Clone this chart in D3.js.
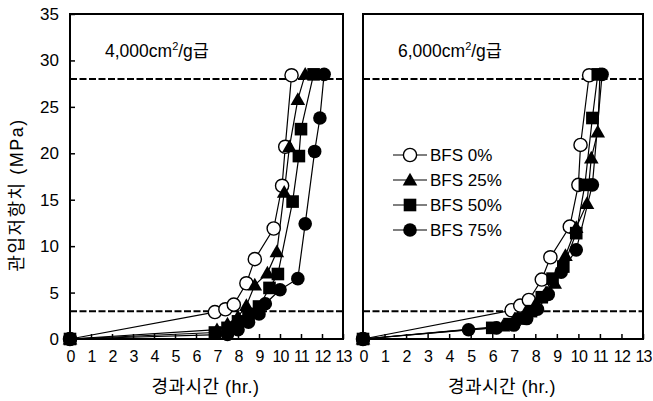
<!DOCTYPE html>
<html>
<head>
<meta charset="utf-8">
<script src="https://cdn.jsdelivr.net/npm/d3@7"></script>
<style>
    body { margin: 0; background: #fff; }
    text { font-family: "Liberation Sans", Arial, "Noto Sans CJK KR", sans-serif; fill: #000; }
</style>
</head>
<body>
<script>
// series names (legend)
var seriesNames = ["BFS 0%", "BFS 25%", "BFS 50%", "BFS 75%"];
var markerTypes = ["openCircle", "triangle", "square", "circle"];

// panel titles
var panelTitles = ["4,000", "6,000"];

// tick values
var xTicks = d3.range(0, 14);
var yTicks = [0, 5, 10, 15, 20, 25, 30, 35];
var refLines = [28, 3];

// data: [hours, MPa]
var left0 = [[0,0],[6.9,2.9],[7.4,3.2],[7.8,3.7],[8.4,6.0],[8.8,8.6],[9.7,11.9],[10.1,16.5],[10.25,20.7],[10.55,28.4]];
var left25 = [[0,0],[7.0,1.0],[7.5,1.6],[8.0,2.4],[8.4,3.6],[8.8,5.8],[9.4,7.1],[9.85,9.4],[10.2,15.8],[10.45,20.7],[10.85,25.8],[11.2,28.5]];
var left50 = [[0,0],[6.9,0.7],[7.5,1.2],[8.0,1.9],[8.5,2.7],[9.0,3.5],[9.5,5.5],[9.9,7.0],[10.6,14.8],[10.9,19.7],[11.0,22.6],[11.6,28.5]];
var left75 = [[0,0],[7.5,0.5],[8.0,1.0],[8.5,1.8],[9.0,2.7],[9.3,3.8],[10.0,5.3],[10.85,6.5],[11.2,12.4],[11.65,20.2],[11.9,23.8],[12.1,28.5]];

var right0 = [[0,0],[6.9,3.1],[7.3,3.6],[7.7,4.2],[8.3,6.4],[8.7,8.8],[9.6,12.1],[10.0,16.6],[10.1,20.9],[10.5,28.4]];
var right25 = [[0,0],[6.5,1.4],[7.0,2.0],[7.5,2.7],[8.0,3.7],[8.5,5.0],[8.9,6.0],[9.4,9.0],[9.9,12.0],[10.4,14.6],[10.6,19.5],[10.9,22.3],[11.0,28.5]];
var right50 = [[0,0],[6.0,1.2],[6.8,1.6],[7.3,2.2],[7.8,3.0],[8.3,4.5],[8.8,6.5],[9.3,7.8],[9.9,11.4],[10.3,16.6],[10.65,23.8],[10.9,28.5]];
var right75 = [[0,0],[4.9,1.0],[6.2,1.2],[7.0,1.5],[7.6,2.2],[8.1,3.2],[8.6,4.8],[9.2,7.2],[9.9,9.6],[10.65,16.6],[11.1,28.5]];

var panelsData = [[left0, left25, left50, left75], [right0, right25, right50, right75]];

var width = 653, height = 401;
var svg = d3.select("body").append("svg")
    .attr("width", width)
    .attr("height", height);

// panel frames
var panels = [
    { x0: 70, x1: 343 },
    { x0: 363, x1: 643 }
];
var plotTop = 14, plotBottom = 339;

var y = d3.scaleLinear().domain([0, 35]).range([plotBottom, plotTop]);

function drawMarker(g, type, cx, cy) {
    if (type == "openCircle") {
        g.append("circle").attr("cx", cx).attr("cy", cy).attr("r", 6.6)
            .attr("fill", "#fff").attr("stroke", "#000").attr("stroke-width", 1.4);
    } else if (type == "circle") {
        g.append("circle").attr("cx", cx).attr("cy", cy).attr("r", 6.8)
            .attr("fill", "#000");
    } else if (type == "square") {
        g.append("rect").attr("x", cx - 6.3).attr("y", cy - 6.3)
            .attr("width", 12.6).attr("height", 12.6).attr("fill", "#000");
    } else {
        var s = 7.3;
        g.append("path")
            .attr("d", "M" + cx + "," + (cy - s) + "L" + (cx + s) + "," + (cy + s * 0.75) + "L" + (cx - s) + "," + (cy + s * 0.75) + "Z")
            .attr("fill", "#000");
    }
}

panels.forEach(function(p, i) {
    var x = d3.scaleLinear().domain([0, 13]).range([p.x0, p.x1]);
    var g = svg.append("g");

    // reference dashed lines
    g.selectAll(".ref")
        .data(refLines)
        .enter()
        .append("line")
        .attr("x1", p.x0).attr("x2", p.x1)
        .attr("y1", function(d) { return y(d); })
        .attr("y2", function(d) { return y(d); })
        .attr("stroke", "#000")
        .attr("stroke-width", 2)
        .attr("stroke-dasharray", "7,2.5");

    // x axis with inward ticks
    var xAxis = d3.axisBottom(x)
        .tickValues(xTicks)
        .tickSizeInner(-5)
        .tickSizeOuter(0)
        .tickPadding(12);
    var xg = g.append("g")
        .attr("transform", "translate(0," + plotBottom + ")")
        .call(xAxis);
    xg.select(".domain").remove();
    xg.selectAll(".tick line").attr("stroke", "#000").attr("stroke-width", 1.5);
    xg.selectAll(".tick text")
        .style("font-size", "16px")
        .style("letter-spacing", "-0.8px")
        .attr("fill", "#000");

    if (i == 0) {
        var yAxis = d3.axisLeft(y)
            .tickValues(yTicks)
            .tickSizeInner(-5)
            .tickSizeOuter(0)
            .tickPadding(11);
        var yg = g.append("g")
            .attr("transform", "translate(" + p.x0 + ",0)")
            .call(yAxis);
        yg.select(".domain").remove();
        yg.selectAll(".tick line").attr("stroke", "#000").attr("stroke-width", 1.5);
        yg.selectAll(".tick text")
            .style("font-size", "17px")
            .attr("fill", "#000");
    }

    // frame
    g.append("rect")
        .attr("x", p.x0).attr("y", plotTop)
        .attr("width", p.x1 - p.x0).attr("height", plotBottom - plotTop)
        .attr("fill", "none")
        .attr("stroke", "#000")
        .attr("stroke-width", 2);

    // series lines
    var line = d3.line()
        .x(function(d) { return x(d[0]); })
        .y(function(d) { return y(d[1]); });

    panelsData[i].forEach(function(series) {
        g.append("path")
            .datum(series)
            .attr("d", line)
            .attr("fill", "none")
            .attr("stroke", "#000")
            .attr("stroke-width", 1.2);
    });

    // markers
    panelsData[i].forEach(function(series, k) {
        var mg = g.append("g");
        series.forEach(function(d) {
            drawMarker(mg, markerTypes[k], x(d[0]), y(d[1]));
        });
    });

    // panel title
    var t = g.append("text")
        .attr("x", p.x0 + 35)
        .attr("y", 57)
        .style("font-size", "17.5px");
    t.append("tspan").text(panelTitles[i] + "cm");
    t.append("tspan").attr("dy", -7).style("font-size", "11px").text("2");
    t.append("tspan").attr("dy", 7).text("/g급");

    // x axis title
    g.append("text")
        .attr("x", (p.x0 + p.x1) / 2 - 1)
        .attr("y", 393)
        .attr("text-anchor", "middle")
        .style("font-size", "18px")
        .style("letter-spacing", "0.5px")
        .text("경과시간 (hr.)");
});

// y axis title
svg.append("text")
    .attr("transform", "translate(23,195) rotate(-90)")
    .attr("text-anchor", "middle")
    .style("font-size", "18px")
    .style("letter-spacing", "1.5px")
    .text("관입저항치 (MPa)");

// legend
var legend = svg.append("g");
seriesNames.forEach(function(name, k) {
    var ly = 155 + k * 25;
    legend.append("line")
        .attr("x1", 393).attr("x2", 427)
        .attr("y1", ly).attr("y2", ly)
        .attr("stroke", "#000").attr("stroke-width", 1.2);
    drawMarker(legend, markerTypes[k], 410, ly);
    legend.append("text")
        .attr("x", 430).attr("y", ly + 6)
        .style("font-size", "17px")
        .text(name);
});
</script>
</body>
</html>
